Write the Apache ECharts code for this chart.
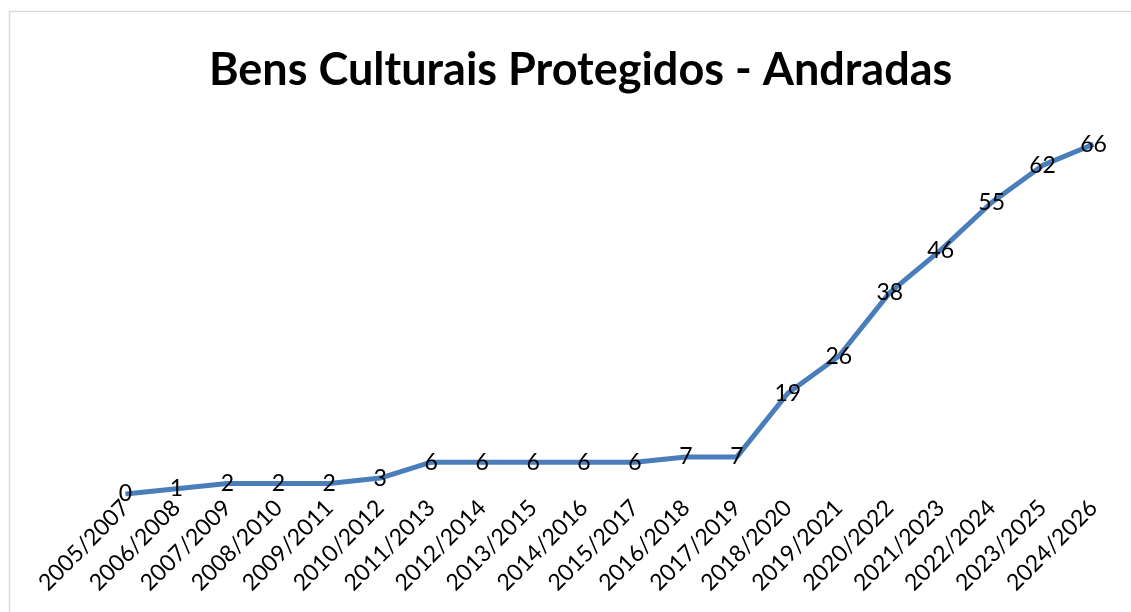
<!DOCTYPE html>
<html>
<head>
<meta charset="utf-8">
<script src="https://cdn.jsdelivr.net/npm/echarts@6/dist/echarts.min.js"></script>
<style>
  html, body { margin: 0; padding: 0; background: #ffffff; }
  #chart { width: 1131px; height: 612px; }
</style>
</head>
<body>
<div id="chart"></div>
<script>
// Biennial periods and the cumulative number of protected cultural assets
const periods = [
  '2005/2007', '2006/2008', '2007/2009', '2008/2010', '2009/2011',
  '2010/2012', '2011/2013', '2012/2014', '2013/2015', '2014/2016',
  '2015/2017', '2016/2018', '2017/2019', '2018/2020', '2019/2021',
  '2020/2022', '2021/2023', '2022/2024', '2023/2025', '2024/2026'
];
const protectedAssets = [0, 1, 2, 2, 2, 3, 6, 6, 6, 6, 6, 7, 7, 19, 26, 38, 46, 55, 62, 66];
const chartTitle = 'Bens Culturais Protegidos - Andradas';

const FONT = 'Lato, "Open Sans", sans-serif';

const chart = echarts.init(document.getElementById('chart'));
chart.setOption({
  backgroundColor: '#ffffff',
  animation: false,
  graphic: [{
    type: 'rect',
    shape: { x: 9.5, y: 11.5, width: 1140, height: 620 },
    style: { fill: 'none', stroke: '#d9d9d9', lineWidth: 1.5 },
    silent: true
  }],
  title: {
    text: chartTitle,
    left: 204,
    top: 43,
    textStyle: { fontFamily: FONT, fontWeight: 'bold', fontSize: 45, color: '#000000' }
  },
  grid: { left: 100, right: 12, top: 123, bottom: 118, containLabel: false },
  xAxis: {
    type: 'category',
    data: periods,
    boundaryGap: true,
    axisLine: { show: false },
    axisTick: { show: false },
    axisLabel: {
      rotate: 45,
      interval: 0,
      margin: 10,
      fontFamily: FONT,
      fontSize: 23,
      color: '#000000'
    }
  },
  yAxis: {
    type: 'value',
    min: 0,
    max: 70,
    show: false
  },
  series: [{
    type: 'line',
    data: protectedAssets,
    symbol: 'circle',
    symbolSize: 0,
    lineStyle: { color: '#4a7ebb', width: 5 },
    itemStyle: { color: '#4a7ebb' },
    label: {
      show: true,
      position: 'inside',
      fontFamily: FONT,
      fontSize: 23,
      color: '#000000'
    }
  }]
});
</script>
</body>
</html>
